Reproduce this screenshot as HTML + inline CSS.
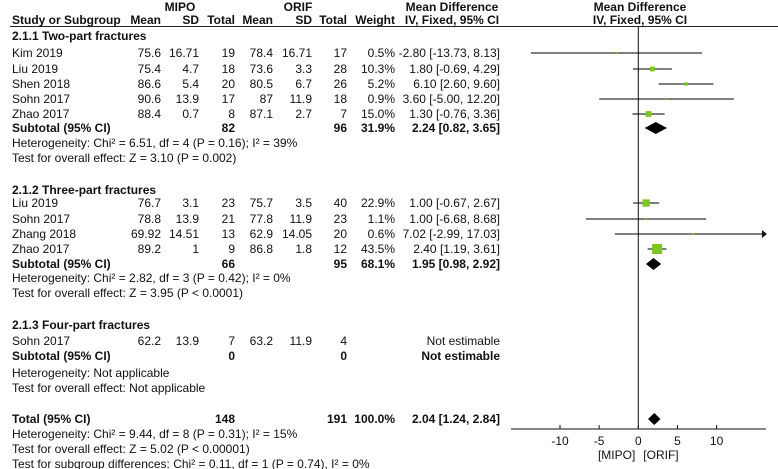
<!DOCTYPE html>
<html><head><meta charset="utf-8"><style>
html,body{margin:0;padding:0;background:#fff}
svg{display:block;font-family:"Liberation Sans",Arial,sans-serif}
text{font-size:12px;fill:#111}
.b{font-weight:bold}
</style></head><body>
<svg id="fp" width="778" height="469" viewBox="0 0 778 469">
<g id="tbl">
<text x="180" y="11" text-anchor="middle" class="b">MIPO</text>
<text x="298" y="11" text-anchor="middle" class="b">ORIF</text>
<text x="452" y="11" text-anchor="middle" class="b">Mean Difference</text>
<text x="640" y="11" text-anchor="middle" class="b">Mean Difference</text>
<text x="12" y="24" class="b">Study or Subgroup</text>
<text x="161" y="24" text-anchor="end" class="b">Mean</text>
<text x="199" y="24" text-anchor="end" class="b">SD</text>
<text x="235" y="24" text-anchor="end" class="b">Total</text>
<text x="273" y="24" text-anchor="end" class="b">Mean</text>
<text x="312" y="24" text-anchor="end" class="b">SD</text>
<text x="347" y="24" text-anchor="end" class="b">Total</text>
<text x="395" y="24" text-anchor="end" class="b">Weight</text>
<text x="452" y="24" text-anchor="middle" class="b">IV, Fixed, 95% CI</text>
<text x="640" y="24" text-anchor="middle" class="b">IV, Fixed, 95% CI</text>
<line x1="10" y1="26.5" x2="778" y2="26.5" stroke="#222" stroke-width="1"/>
</g>
<g id="plot"></g>
</svg>
<script>
const studies=["Kim 2019","Liu 2019","Shen 2018","Sohn 2017","Zhao 2017","Liu 2019","Sohn 2017","Zhang 2018","Zhao 2017","Sohn 2017"];
const mipoMean=["75.6","75.4","86.6","90.6","88.4","76.7","78.8","69.92","89.2","62.2"];
const mipoSD=["16.71","4.7","5.4","13.9","0.7","3.1","13.9","14.51","1","13.9"];
const mipoN=["19","18","20","17","8","23","21","13","9","7"];
const orifMean=["78.4","73.6","80.5","87","87.1","75.7","77.8","62.9","86.8","63.2"];
const orifSD=["16.71","3.3","6.7","11.9","2.7","3.5","11.9","14.05","1.8","11.9"];
const orifN=["17","28","26","18","7","40","23","20","12","4"];
const weights=[0.5,10.3,5.2,0.9,15.0,22.9,1.1,0.6,43.5,null];
const md=[-2.80,1.80,6.10,3.60,1.30,1.00,1.00,7.02,2.40,null];
const lo=[-13.73,-0.69,2.60,-5.00,-0.76,-0.67,-6.68,-2.99,1.19,null];
const hi=[8.13,4.29,9.60,12.20,3.36,2.67,8.68,17.03,3.61,null];
const studyY=[53,69,84,99,114,203,219,234,249,341];
const subLabels=["Subtotal (95% CI)","Subtotal (95% CI)","Subtotal (95% CI)","Total (95% CI)"];
const subMipoN=["82","66","0","148"];
const subOrifN=["96","95","0","191"];
const subWeight=["31.9%","68.1%","","100.0%"];
const subMd=[2.24,1.95,null,2.04];
const subLo=[0.82,0.98,null,1.24];
const subHi=[3.65,2.92,null,2.84];
const subY=[128,264,356,419];
const xTicks=[-10,-5,0,5,10];
const notes=[["2.1.1 Two-part fractures",36,1],["Heterogeneity: Chi² = 6.51, df = 4 (P = 0.16); I² = 39%",143,0],["Test for overall effect: Z = 3.10 (P = 0.002)",158,0],
["2.1.2 Three-part fractures",190,1],["Heterogeneity: Chi² = 2.82, df = 3 (P = 0.42); I² = 0%",278,0],["Test for overall effect: Z = 3.95 (P < 0.0001)",293,0],
["2.1.3 Four-part fractures",325,1],["Heterogeneity: Not applicable",373,0],["Test for overall effect: Not applicable",388,0],
["Heterogeneity: Chi² = 9.44, df = 8 (P = 0.31); I² = 15%",434,0],["Test for overall effect: Z = 5.02 (P < 0.00001)",449,0],["Test for subgroup differences: Chi² = 0.11, df = 1 (P = 0.74), I² = 0%",464,0]];

const NS="http://www.w3.org/2000/svg";
const X0=638.3, PXU=7.83, XMIN=-16.3, XMAX=16.3, AXY=429;
const sx=v=>X0+v*PXU;
const tbl=document.getElementById('tbl'), plot=document.getElementById('plot');
function mk(tag,attrs,parent,txt){const e=document.createElementNS(NS,tag);for(const k in attrs)e.setAttribute(k,attrs[k]);if(txt!=null)e.textContent=txt;parent.appendChild(e);return e;}
function t(x,y,s,anchor,bold,name){const e=mk('text',{x:x,y:y+4,'text-anchor':anchor||'start'},tbl,s);if(bold)e.setAttribute('class','b');

return e;}
const f2=v=>v.toFixed(2);
notes.forEach(n=>{t(12,n[1],n[0],'start',n[2],'note-text');});
studies.forEach((s,i)=>{const y=studyY[i];
 t(12,y,s,'start',0,'study-name');
 t(161,y,mipoMean[i],'end',0,'mipo-mean');t(199,y,mipoSD[i],'end',0,'mipo-sd');t(235,y,mipoN[i],'end',0,'mipo-total');
 t(273,y,orifMean[i],'end',0,'orif-mean');t(312,y,orifSD[i],'end',0,'orif-sd');t(347,y,orifN[i],'end',0,'orif-total');
 if(weights[i]!=null){t(395,y,weights[i].toFixed(1)+'%','end',0,'study-weight');
  t(500,y,f2(md[i])+' ['+f2(lo[i])+', '+f2(hi[i])+']','end',0,'study-ci');
  const x1=sx(Math.max(lo[i],XMIN)),x2=sx(Math.min(hi[i],XMAX));
  const ln=mk('line',{x1:x1,y1:y,x2:x2,y2:y,stroke:'#333','stroke-width':1.2},plot);
  
  
  if(hi[i]>XMAX){const a=mk('path',{d:`M${x2+1},${y} l-5,-4 v8 z`,fill:'#111'},plot);
   
   }
  const sz=Math.max(2,10*Math.sqrt(weights[i]/43.5));
  const sq=mk('rect',{x:sx(md[i])-sz/2,y:y-sz/2,width:sz,height:sz,fill:'#7cc620'},plot);
  
  
 } else { t(500,y,'Not estimable','end',0,'study-ci'); }
});
subLabels.forEach((s,i)=>{const y=subY[i];
 t(12,y,s,'start',1,'subtotal-label');t(235,y,subMipoN[i],'end',1,'subtotal-mipo-total');t(347,y,subOrifN[i],'end',1,'subtotal-orif-total');
 if(subWeight[i])t(395,y,subWeight[i],'end',1,'subtotal-weight');
 if(subMd[i]!=null){t(500,y,f2(subMd[i])+' ['+f2(subLo[i])+', '+f2(subHi[i])+']','end',1,'subtotal-ci');
  const d=mk('path',{d:`M${sx(subLo[i])},${y} L${sx(subMd[i])},${y-6} L${sx(subHi[i])},${y} L${sx(subMd[i])},${y+6} Z`,fill:'#000'},plot);
  
  
 } else t(500,y,'Not estimable','end',1,'subtotal-ci');
});
const zl=mk('line',{x1:X0,y1:26,x2:X0,y2:AXY,stroke:'#111','stroke-width':1},plot);


const ax=mk('line',{x1:511,y1:AXY,x2:766,y2:AXY,stroke:'#111','stroke-width':1},plot);


xTicks.forEach(v=>{const tk=mk('line',{x1:sx(v),y1:AXY-4,x2:sx(v),y2:AXY,stroke:'#111'},plot);
 
 
 const lb=mk('text',{x:sx(v),y:AXY+16,'text-anchor':'middle'},plot,String(v));
 
 });
const l1=mk('text',{x:X0-3,y:AXY+30,'text-anchor':'end'},plot,'[MIPO]');


const l2=mk('text',{x:X0+5,y:AXY+30,'text-anchor':'start'},plot,'[ORIF]');


</script>
</body></html>
